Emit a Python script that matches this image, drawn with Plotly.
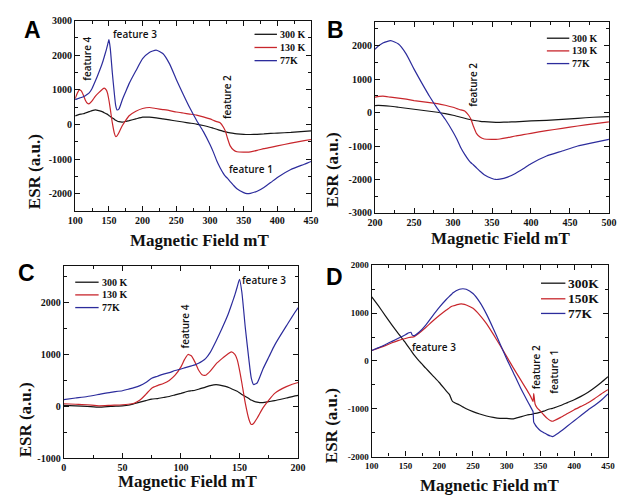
import plotly.graph_objects as go

# ---- Field sweep 0-500 mT (shared by panels A, B, C) ----
field_mT = [0, 10, 20, 30, 40, 50, 55, 60, 65, 70, 75, 80, 85, 90, 95, 100, 103, 106, 109, 112,
            115, 118, 121, 125, 130, 135, 140, 143, 146, 148, 150, 152, 155, 158, 160, 162, 165,
            170, 175, 180, 190, 200, 210, 220, 230, 240, 250, 260, 270, 280, 290, 300, 305, 310,
            315, 320, 323, 326, 330, 335, 340, 350, 355, 360, 370, 380, 390, 400, 420, 440, 460,
            480, 500]

esr_300K = [20, 10, 0, -15, 0, 10, 20, 50, 80, 110, 140, 150, 170, 190, 220, 250, 270, 290, 300, 310,
            330, 350, 370, 400, 420, 400, 370, 340, 310, 290, 260, 230, 190, 150, 120, 100, 80,
            70, 90, 110, 160, 210, 210, 190, 160, 130, 100, 70, 40, 10, -30, -80, -110, -140,
            -170, -200, -215, -230, -245, -260, -270, -285, -290, -290, -285, -275, -260, -250, -230, -200, -170,
            -140, -120]

esr_130K = [50, 40, 30, 10, 20, 30, 40, 60, 120, 230, 350, 400, 440, 500, 600, 760, 900, 1000, 970, 850,
            700, 610, 600, 680, 820, 920, 1010, 1050, 1000, 900, 700, 450, 50, -250, -350, -330, -230,
            -30, 120, 250, 380, 460, 490, 460, 430, 400, 360, 330, 300, 270, 220, 160, 120, 80,
            50, -80, -200, -400, -620, -740, -790, -800, -800, -790, -750, -700, -660, -620, -540, -470, -400,
            -340, -280]

esr_77K = [130, 160, 190, 230, 270, 300, 330, 360, 400, 460, 540, 580, 620, 650, 690, 720, 740, 760, 780, 800,
           830, 870, 920, 1040, 1260, 1500, 1760, 1950, 2150, 2300, 2450, 2200, 1500, 900, 550, 420, 450,
           720, 950, 1180, 1550, 1900, 2080, 2150, 2050, 1750, 1300, 880, 480, 120, -200, -580, -800, -1050,
           -1250, -1420, -1500, -1560, -1650, -1760, -1860, -1970, -2000, -1990, -1930, -1820, -1680, -1530, -1300, -1150, -1000,
           -900, -800]

# ---- Field sweep 100-450 mT (panel D) ----
field_D = [100, 110, 120, 130, 140, 150, 155, 158, 160, 163, 170, 180, 190, 200, 210, 215, 218, 220,
           230, 235, 240, 250, 260, 270, 280, 290, 300, 310, 320, 330, 335, 338, 339, 340, 342, 345,
           350, 355, 360, 365, 368, 370, 380, 390, 400, 410, 420, 430, 440, 450]

esr_D_300K = [1340, 1150, 950, 750, 560, 380, 280, 220, 180, 120, 0, -150, -300, -450, -620, -700, -800, -850,
              -920, -960, -1000, -1060, -1110, -1150, -1180, -1200, -1200, -1210, -1170, -1130, -1120, -1110, -1110, -1100, -1095, -1090,
              -1070, -1050, -1020, -1000, -990, -980, -930, -870, -810, -740, -660, -560, -450, -330]

esr_D_150K = [220, 270, 320, 380, 430, 470, 490, 500, 500, 510, 580, 700, 830, 950, 1060, 1110, 1140, 1150,
              1190, 1190, 1170, 1100, 960, 780, 560, 330, 90, -150, -380, -610, -730, -820, -850, -680, -900, -980,
              -1050, -1130, -1200, -1250, -1260, -1250, -1180, -1100, -1020, -950, -880, -790, -690, -600]

esr_D_77K = [220, 280, 340, 410, 480, 550, 590, 600, 540, 530, 600, 750, 940, 1120, 1280, 1350, 1390, 1420,
             1500, 1510, 1500, 1410, 1230, 980, 680, 360, 40, -250, -550, -820, -950, -1030, -1060, -1280, -1330, -1390,
             -1460, -1500, -1540, -1570, -1580, -1570, -1470, -1360, -1250, -1140, -1030, -930, -820, -690]

labels_ABC = ["300 K", "130 K", "77K"]
labels_D = ["300K", "150K", "77K"]
colors = ["#151515", "#c8262c", "#2c2c9c"]

W, H = 626, 500


def px(x):
    return x / W


def py(y):
    return 1 - y / H


fig = go.Figure()

# panel -> (axis suffix, x data, series list, labels)
panels = [
    ("", field_mT, [esr_300K, esr_130K, esr_77K], labels_ABC),
    ("2", field_mT, [esr_300K, esr_130K, esr_77K], labels_ABC),
    ("3", field_mT, [esr_300K, esr_130K, esr_77K], labels_ABC),
    ("4", field_D, [esr_D_300K, esr_D_150K, esr_D_77K], labels_D),
]

for suf, xs, series, labs in panels:
    for ys, lab, col in zip(series, labs, colors):
        fig.add_trace(go.Scatter(
            x=xs, y=ys, name=lab, mode="lines",
            line=dict(color=col, width=1.2, shape="spline", smoothing=0.5),
            xaxis="x" + suf, yaxis="y" + suf, showlegend=False,
        ))

tick_font = dict(family="Liberation Serif", size=10, color="#111", weight="bold")


def axis_common(rng, dtick, minor_dtick, font_size, domain, anchor):
    start = int(-(-rng[0] // dtick) * dtick)
    vals = list(range(start, int(rng[1]) + 1, dtick))
    return dict(
        range=rng, domain=domain, anchor=anchor,
        tickvals=vals, ticktext=[str(v) for v in vals],
        showline=True, linecolor="#111", linewidth=1.3, mirror="ticks",
        ticks="inside", ticklen=5, tickwidth=1.1, tickcolor="#111",
        minor=dict(ticks="inside", ticklen=3, dtick=minor_dtick, tickcolor="#111", tickwidth=1),
        showgrid=False, zeroline=False,
        tickfont=dict(tick_font, size=font_size),
    )


dom = {
    "A": ([px(69), px(311)], [py(210), py(15)]),
    "B": ([px(376.7), px(616.7)], [py(212), py(16.7)]),
    "C": ([px(57.3), px(297.7)], [py(463.3), py(266.7)]),
    "D": ([px(373.3), px(615.7)], [py(461.7), py(265.7)]),
}

fig.update_layout(
    width=W, height=H,
    margin=dict(l=0, r=0, t=0, b=0),
    paper_bgcolor="white", plot_bgcolor="white",
    showlegend=False,
    xaxis=axis_common([100, 450], 50, 25, 10, dom["A"][0], "y"),
    yaxis=axis_common([-2500, 3000], 1000, 500, 10, dom["A"][1], "x"),
    xaxis2=axis_common([200, 500], 50, 25, 10, dom["B"][0], "y2"),
    yaxis2=axis_common([-3000, 2700], 1000, 500, 10, dom["B"][1], "x2"),
    xaxis3=axis_common([0, 200], 50, 25, 10, dom["C"][0], "y3"),
    yaxis3=axis_common([-1000, 2700], 1000, 500, 10, dom["C"][1], "x3"),
    xaxis4=axis_common([100, 450], 50, 25, 9, dom["D"][0], "y4"),
    yaxis4=axis_common([-2000, 2000], 1000, 500, 9, dom["D"][1], "x4"),
)

annotations = []
shapes = []

title_font = dict(family="Liberation Serif", size=17, color="#111", weight="bold")
# axis titles: (x-title centre, y-title centre)
axis_titles = [
    ((197, 240), (28, 170)),
    ((505, 238), (334, 168)),
    ((184, 487), (18, 424)),
    ((494, 491), (332, 430)),
]
for (xc, yc), (xv, yv) in axis_titles:
    annotations.append(dict(text="Magnetic Field mT", x=px(xc), y=py(yc), xref="paper", yref="paper",
                            showarrow=False, font=title_font, xanchor="center", yanchor="middle"))
    annotations.append(dict(text="ESR (a.u.)", x=px(xv), y=py(yv), xref="paper", yref="paper",
                            showarrow=False, font=title_font, textangle=-90,
                            xanchor="center", yanchor="middle"))

# panel letters
letter_font = dict(family="Liberation Sans", size=23, color="#000", weight="bold")
for letter, (lx, ly) in zip("ABCD", [(25, 25), (336, 25), (19, 274), (335, 278)]):
    annotations.append(dict(text=letter, x=px(lx), y=py(ly), xref="paper", yref="paper",
                            showarrow=False, font=letter_font, xanchor="center", yanchor="middle"))

# feature labels: (text, x, y, angle)
feat_font = dict(family="Open Sans", size=10, color="#111", weight=600)
features = [
    ("feature 4", 81, 54, -90), ("feature 3", 130, 29, 0),
    ("feature 2", 224, 93, -90), ("feature 1", 249, 167, 0),
    ("feature 2", 477, 81, -90),
    ("feature 4", 182, 328, -90), ("feature 3", 263, 281, 0),
    ("feature 3", 437, 349, 0), ("feature 2", 542, 370, -90), ("feature 1", 560, 375, -90),
]
for txt, fx, fy, ang in features:
    annotations.append(dict(text=txt, x=px(fx), y=py(fy), xref="paper", yref="paper",
                            showarrow=False, font=feat_font, textangle=ang,
                            xanchor="center", yanchor="middle"))

# legends: (line x0, line x1, row y positions, font size, labels)
legends = [
    (253, 276, [29, 42.5, 56], 10, labels_ABC),
    (553, 576, [33, 46, 59], 10, labels_ABC),
    (69, 93, [283, 296, 309], 10, labels_ABC),
    (547, 572, [284, 300, 315], 13.5, labels_D),
]
leg_font = dict(family="Liberation Serif", color="#111", weight="bold")
for x0, x1, rows, fs, labs in legends:
    for ry, lab, col in zip(rows, labs, colors):
        shapes.append(dict(type="line", xref="paper", yref="paper",
                           x0=px(x0), x1=px(x1), y0=py(ry), y1=py(ry),
                           line=dict(color=col, width=1.3)))
        annotations.append(dict(text=lab, x=px(x1 + 1), y=py(ry), xref="paper", yref="paper",
                                showarrow=False, font=dict(leg_font, size=fs),
                                xanchor="left", yanchor="middle"))

fig.update_layout(annotations=annotations, shapes=shapes)

fig.write_html("out.html")
